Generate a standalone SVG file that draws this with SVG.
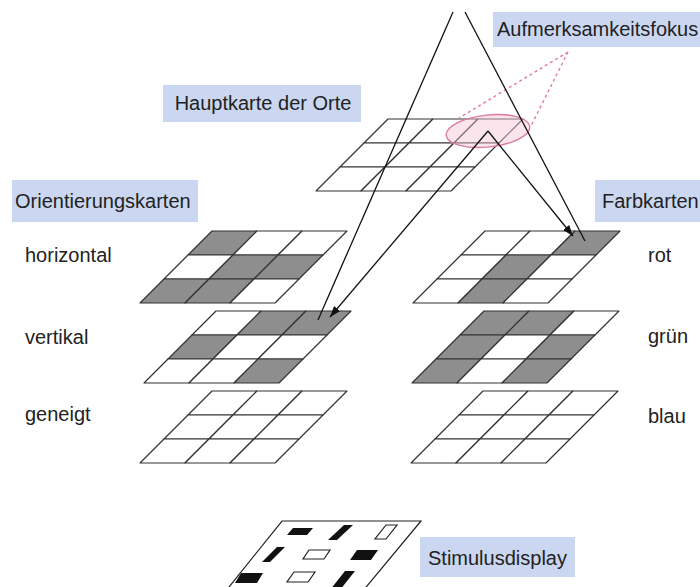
<svg xmlns="http://www.w3.org/2000/svg" xmlns:xlink="http://www.w3.org/1999/xlink" width="700" height="587" viewBox="0 0 700 587">
<style>
.t{font-family:"Liberation Sans",Arial,sans-serif;font-size:20px;fill:#222}
.box{fill:#cbd7f1}
.cell{stroke:#333;stroke-width:1.2;stroke-linejoin:round}
.w{fill:#fff}
.g{fill:#8e8e8e}
.ln{stroke:#111;stroke-width:1.3;fill:none}
.pk{stroke:#e27a98;stroke-width:1.4;stroke-dasharray:3 3;fill:none}
.sb{fill:#111}
.so{fill:#fff;stroke:#222;stroke-width:1.2}
</style>
<defs>
<polygon id="c" points="0,0 45,0 21,24 -24,24"/>
<marker id="ah" markerWidth="11" markerHeight="8" refX="11" refY="4" orient="auto" markerUnits="userSpaceOnUse"><path d="M0,0 L11,4 L0,8 z" fill="#111"/></marker>
</defs>
<rect width="700" height="587" fill="#fff"/>

<g id="hauptkarte">
<use xlink:href="#c" class="cell w" x="388" y="119"/><use xlink:href="#c" class="cell w" x="433" y="119"/><use xlink:href="#c" class="cell w" x="478" y="119"/>
<use xlink:href="#c" class="cell w" x="364" y="143"/><use xlink:href="#c" class="cell w" x="409" y="143"/><use xlink:href="#c" class="cell w" x="454" y="143"/>
<use xlink:href="#c" class="cell w" x="340" y="167"/><use xlink:href="#c" class="cell w" x="385" y="167"/><use xlink:href="#c" class="cell w" x="430" y="167"/>
</g>

<g id="map-horizontal">
<use xlink:href="#c" class="cell g" x="212" y="231"/><use xlink:href="#c" class="cell w" x="257" y="231"/><use xlink:href="#c" class="cell w" x="302" y="231"/>
<use xlink:href="#c" class="cell w" x="188" y="255"/><use xlink:href="#c" class="cell g" x="233" y="255"/><use xlink:href="#c" class="cell g" x="278" y="255"/>
<use xlink:href="#c" class="cell g" x="164" y="279"/><use xlink:href="#c" class="cell g" x="209" y="279"/><use xlink:href="#c" class="cell w" x="254" y="279"/>
</g>

<g id="map-vertikal">
<use xlink:href="#c" class="cell w" x="216" y="311"/><use xlink:href="#c" class="cell g" x="261" y="311"/><use xlink:href="#c" class="cell g" x="306" y="311"/>
<use xlink:href="#c" class="cell g" x="192" y="335"/><use xlink:href="#c" class="cell w" x="237" y="335"/><use xlink:href="#c" class="cell w" x="282" y="335"/>
<use xlink:href="#c" class="cell w" x="168" y="359"/><use xlink:href="#c" class="cell w" x="213" y="359"/><use xlink:href="#c" class="cell g" x="258" y="359"/>
</g>

<g id="map-geneigt">
<use xlink:href="#c" class="cell w" x="212" y="391"/><use xlink:href="#c" class="cell w" x="257" y="391"/><use xlink:href="#c" class="cell w" x="302" y="391"/>
<use xlink:href="#c" class="cell w" x="188" y="415"/><use xlink:href="#c" class="cell w" x="233" y="415"/><use xlink:href="#c" class="cell w" x="278" y="415"/>
<use xlink:href="#c" class="cell w" x="164" y="439"/><use xlink:href="#c" class="cell w" x="209" y="439"/><use xlink:href="#c" class="cell w" x="254" y="439"/>
</g>

<g id="map-rot">
<use xlink:href="#c" class="cell w" x="485" y="231"/><use xlink:href="#c" class="cell w" x="530" y="231"/><use xlink:href="#c" class="cell g" x="575" y="231"/>
<use xlink:href="#c" class="cell w" x="461" y="255"/><use xlink:href="#c" class="cell g" x="506" y="255"/><use xlink:href="#c" class="cell w" x="551" y="255"/>
<use xlink:href="#c" class="cell w" x="437" y="279"/><use xlink:href="#c" class="cell g" x="482" y="279"/><use xlink:href="#c" class="cell w" x="527" y="279"/>
</g>

<g id="map-gruen">
<use xlink:href="#c" class="cell g" x="484" y="311"/><use xlink:href="#c" class="cell g" x="529" y="311"/><use xlink:href="#c" class="cell w" x="574" y="311"/>
<use xlink:href="#c" class="cell g" x="460" y="335"/><use xlink:href="#c" class="cell w" x="505" y="335"/><use xlink:href="#c" class="cell g" x="550" y="335"/>
<use xlink:href="#c" class="cell g" x="436" y="359"/><use xlink:href="#c" class="cell w" x="481" y="359"/><use xlink:href="#c" class="cell g" x="526" y="359"/>
</g>

<g id="map-blau">
<use xlink:href="#c" class="cell w" x="483" y="391"/><use xlink:href="#c" class="cell w" x="528" y="391"/><use xlink:href="#c" class="cell w" x="573" y="391"/>
<use xlink:href="#c" class="cell w" x="459" y="415"/><use xlink:href="#c" class="cell w" x="504" y="415"/><use xlink:href="#c" class="cell w" x="549" y="415"/>
<use xlink:href="#c" class="cell w" x="435" y="439"/><use xlink:href="#c" class="cell w" x="480" y="439"/><use xlink:href="#c" class="cell w" x="525" y="439"/>
</g>

<g id="stimulusdisplay">
<polygon points="282,521 421,521 362,592 225,592" fill="#fff" stroke="#222" stroke-width="1.2"/>
<polygon class="sb" points="293,528 313,528 307,535 287,535"/>
<polygon class="sb" points="344,525 353,525 337,540 328,540"/>
<polygon class="so" points="386,525 397,525 386,539 375,539"/>
<polygon class="sb" points="277,547 285,547 270,562 262,562"/>
<polygon class="so" points="309,550 330,550 324,559 303,559"/>
<polygon class="sb" points="357,550 378,550 371,560 350,560"/>
<polygon class="sb" points="241,573 263,573 257,583 235,583"/>
<polygon class="so" points="294,572 315,572 308,582 287,582"/>
<polygon class="sb" points="345,571 355,571 340,590 330,590"/>
</g>

<g id="aufmerksamkeitsfokus-region">
<ellipse cx="488" cy="131" rx="42" ry="16" transform="rotate(-6 488 131)" fill="#f3c6d4" fill-opacity="0.45" stroke="#dd7b98" stroke-width="1.4"/>
<path class="pk" d="M568,52 L459,118 M568,52 L531,126"/>
</g>

<g id="connectors">
<path class="ln" d="M453,12 L318,320"/>
<path class="ln" d="M465,12 L585,241"/>
<path class="ln" d="M488,131 L330,317" marker-end="url(#ah)"/>
<path class="ln" d="M488,131 L573,236" marker-end="url(#ah)"/>
</g>

<g id="label-aufmerksamkeitsfokus"><rect class="box" x="493" y="12" width="210" height="35"/><text class="t" x="497" y="36">Aufmerksamkeitsfokus</text></g>
<g id="label-hauptkarte"><rect class="box" x="163" y="85" width="198" height="37"/><text class="t" x="263" y="110" text-anchor="middle">Hauptkarte der Orte</text></g>
<g id="label-orientierungskarten"><rect class="box" x="12" y="180" width="186" height="42"/><text class="t" x="15" y="208">Orientierungskarten</text></g>
<g id="label-farbkarten"><rect class="box" x="595" y="180" width="110" height="42"/><text class="t" x="602" y="208">Farbkarten</text></g>
<g id="label-stimulusdisplay"><rect class="box" x="420" y="537" width="155" height="40"/><text class="t" x="428" y="565">Stimulusdisplay</text></g>

<g id="label-horizontal"><text class="t" x="25" y="262">horizontal</text></g>
<g id="label-vertikal"><text class="t" x="25" y="344">vertikal</text></g>
<g id="label-geneigt"><text class="t" x="25" y="421">geneigt</text></g>
<g id="label-rot"><text class="t" x="648" y="262">rot</text></g>
<g id="label-gruen"><text class="t" x="648" y="343">grün</text></g>
<g id="label-blau"><text class="t" x="648" y="423">blau</text></g>
</svg>
